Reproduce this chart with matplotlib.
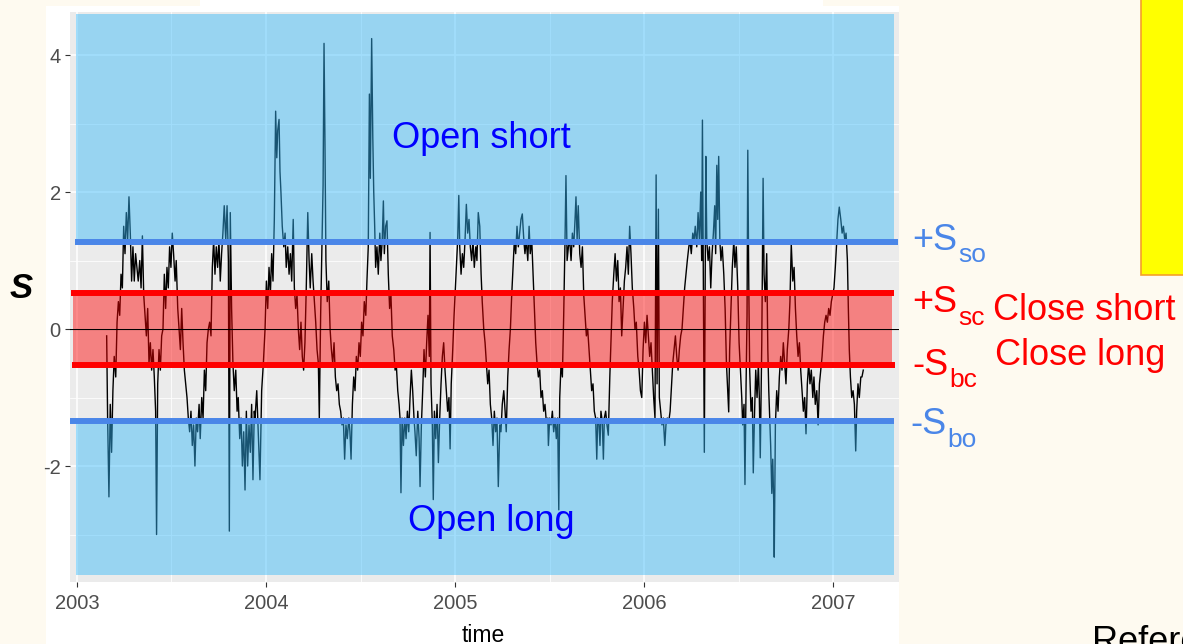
import numpy as np
import matplotlib.pyplot as plt
from matplotlib.patches import Rectangle

plt.rcParams['font.family'] = ['Liberation Sans', 'DejaVu Sans']

# Spread S, split into pieces (decimal years)
t_a = [2003.157, 2003.162, 2003.169, 2003.176, 2003.183, 2003.190, 2003.197, 2003.205, 2003.212, 2003.219,
       2003.226, 2003.233, 2003.240, 2003.247, 2003.254, 2003.261, 2003.268, 2003.275, 2003.282, 2003.289,
       2003.296, 2003.303, 2003.310, 2003.317, 2003.324, 2003.332, 2003.339, 2003.346, 2003.353, 2003.360,
       2003.367, 2003.374, 2003.381, 2003.388, 2003.395, 2003.402, 2003.409, 2003.416, 2003.421, 2003.427,
       2003.434, 2003.441, 2003.448, 2003.455, 2003.462, 2003.469, 2003.476, 2003.483, 2003.490, 2003.497,
       2003.504, 2003.511, 2003.519, 2003.525, 2003.533, 2003.540, 2003.547, 2003.554, 2003.561, 2003.568,
       2003.575, 2003.582, 2003.589, 2003.596, 2003.603, 2003.610, 2003.617, 2003.624, 2003.631, 2003.638,
       2003.646, 2003.652, 2003.660, 2003.667, 2003.674, 2003.681, 2003.688, 2003.695, 2003.702, 2003.709,
       2003.716, 2003.723, 2003.730, 2003.737, 2003.744, 2003.751, 2003.758, 2003.765, 2003.772, 2003.779,
       2003.787, 2003.794, 2003.801, 2003.806, 2003.811, 2003.818, 2003.825, 2003.832, 2003.840, 2003.847,
       2003.853, 2003.861, 2003.868, 2003.875, 2003.882, 2003.889, 2003.896, 2003.903, 2003.910, 2003.917,
       2003.924, 2003.931, 2003.938]
s_a = [-0.1, -1.3, -2.45, -1.1, -1.8, -0.9, -0.4, -0.7, 0.1, 0.4,
       0.2, 0.8, 0.6, 1.5, 1.1, 1.7, 1.3, 1.93, 1.4, 0.7,
       1.2, 0.7, 1.1, 0.9, 0.7, 1.0, 0.6, 1.36, 0.5, 0.2,
       -0.1, 0.3, -0.5, -0.2, -0.6, -0.3, -0.7, -1.2, -3.0, -0.8,
       -0.3, -0.6, -0.1, 0.0, 0.8, 0.3, 0.9, 0.6, 1.2, 0.9,
       1.4, 1.1, 0.7, 1.0, 0.3, 0.0, -0.3, 0.3, -0.2, -0.6,
       -0.8, -1.0, -1.3, -1.5, -1.2, -1.7, -1.4, -2.0, -1.3, -1.5,
       -1.1, -1.6, -1.0, -1.3, -0.6, -0.9, -0.2, 0.0, 0.1, -0.1,
       0.9, 1.3, 0.8, 1.2, 0.9, 1.3, 0.7, 1.1, 1.4, 1.8,
       1.3, 1.8, 1.0, -2.95, 1.7, 0.3, -0.5, -0.9, -0.6, -1.2,
       -1.0, -1.6, -1.3, -2.0, -1.5, -2.35, -1.2, -2.0, -1.4, -1.8,
       -1.1, -2.2, -1.2]

t_b = [2003.942, 2003.951, 2003.959, 2003.968, 2003.977, 2003.986, 2003.995, 2004.002, 2004.009, 2004.016,
       2004.023, 2004.030, 2004.037, 2004.044, 2004.051, 2004.057, 2004.062, 2004.069, 2004.074, 2004.079,
       2004.086, 2004.094, 2004.101, 2004.107, 2004.115, 2004.122, 2004.129, 2004.136, 2004.144, 2004.150,
       2004.157, 2004.164, 2004.171, 2004.178, 2004.185, 2004.192, 2004.199, 2004.206, 2004.213, 2004.221,
       2004.228, 2004.234, 2004.242, 2004.249, 2004.256, 2004.263, 2004.270, 2004.277, 2004.282, 2004.289,
       2004.296, 2004.302, 2004.307, 2004.312, 2004.317, 2004.324, 2004.332, 2004.339, 2004.346, 2004.353,
       2004.360, 2004.367, 2004.374, 2004.381, 2004.388, 2004.395, 2004.402, 2004.409, 2004.416, 2004.423,
       2004.430, 2004.438, 2004.444, 2004.450, 2004.457, 2004.464, 2004.471, 2004.478, 2004.485, 2004.492,
       2004.499, 2004.506, 2004.513, 2004.520, 2004.528, 2004.534, 2004.541, 2004.547, 2004.552, 2004.559,
       2004.565, 2004.570, 2004.575, 2004.580, 2004.587, 2004.594, 2004.602, 2004.608, 2004.615, 2004.621,
       2004.626, 2004.633, 2004.640, 2004.647, 2004.654, 2004.661, 2004.668, 2004.676, 2004.683, 2004.689,
       2004.697, 2004.704, 2004.709, 2004.714, 2004.720, 2004.727, 2004.734, 2004.741, 2004.748, 2004.755,
       2004.762, 2004.769, 2004.776, 2004.783]
s_b = [-1.3, -0.9, -1.5, -2.2, -0.9, -0.5, 0.0, 0.7, 0.3, 0.9,
       0.5, 1.1, 0.7, 1.6, 3.18, 2.5, 2.9, 3.06, 2.3, 2.0,
       1.5, 1.2, 1.4, 0.9, 1.2, 0.8, 1.1, 0.7, 1.6, 0.6,
       0.3, 0.5, 0.0, -0.3, 0.1, -0.4, -0.6, -0.2, 0.6, 1.7,
       1.0, 0.6, 1.1, 0.7, 0.4, 0.1, -0.3, -0.5, -1.3, 0.2,
       1.2, 2.1, 4.17, 2.7, 1.0, 0.4, 0.7, 0.0, -0.3, -0.5,
       -0.2, -0.7, -0.9, -0.8, -1.1, -1.2, -1.4, -1.3, -1.9, -1.4,
       -1.6, -1.3, -1.5, -1.9, -1.1, -0.7, -0.9, -0.4, -0.6, -0.2,
       -0.4, 0.1, -0.1, 0.4, 0.2, 0.7, 1.2, 3.43, 2.2, 4.24,
       2.8, 2.0, 1.5, 0.9, 1.2, 0.8, 1.4, 1.0, 1.3, 1.87,
       1.1, 1.5, 1.58, 0.8, 0.3, 0.5, -0.1, -0.3, -0.6, -0.5,
       -0.9, -1.1, -1.3, -2.39, -1.3, -1.7, -1.3, -1.6, -1.2, -1.5,
       -1.0, -0.6, -0.9, -1.3]

t_c = [2004.788, 2004.795, 2004.803, 2004.810, 2004.815, 2004.822, 2004.829, 2004.836, 2004.843, 2004.850,
       2004.857, 2004.864, 2004.868, 2004.873, 2004.880, 2004.885, 2004.891, 2004.898, 2004.905, 2004.912,
       2004.919, 2004.926, 2004.933, 2004.940, 2004.947, 2004.954, 2004.961, 2004.968, 2004.974, 2004.980,
       2004.988, 2004.995, 2005.002, 2005.009, 2005.014, 2005.020, 2005.025, 2005.032, 2005.039, 2005.046,
       2005.053, 2005.060, 2005.067, 2005.074, 2005.081, 2005.088, 2005.095, 2005.102, 2005.110, 2005.116,
       2005.123, 2005.131, 2005.138, 2005.144, 2005.152, 2005.159, 2005.166, 2005.173, 2005.180, 2005.187,
       2005.194, 2005.201, 2005.208, 2005.215, 2005.222, 2005.229, 2005.237, 2005.243, 2005.250, 2005.258,
       2005.265, 2005.271, 2005.279, 2005.286, 2005.293, 2005.300, 2005.307, 2005.314, 2005.321, 2005.328,
       2005.335, 2005.342, 2005.349, 2005.356, 2005.364, 2005.370, 2005.377, 2005.385, 2005.392, 2005.398,
       2005.406, 2005.413, 2005.420, 2005.427, 2005.434, 2005.441, 2005.448, 2005.455, 2005.462, 2005.469,
       2005.476, 2005.483, 2005.491, 2005.494, 2005.501, 2005.508, 2005.515, 2005.522, 2005.529, 2005.536,
       2005.543, 2005.549, 2005.554, 2005.561, 2005.568, 2005.575, 2005.582, 2005.587, 2005.593, 2005.600,
       2005.607, 2005.614, 2005.621, 2005.628]
s_c = [-1.5, -1.85, -1.2, -1.6, -2.3, -1.4, -0.9, -0.3, -0.7, -0.2,
       0.2, -0.4, 1.41, -0.8, -1.4, -2.49, -1.2, -1.6, -1.1, -1.95,
       -1.3, -0.8, -0.4, -0.2, -0.6, -0.9, -1.2, -1.0, -1.75, -0.8,
       -0.3, 0.2, 0.6, 1.0, 1.3, 1.95, 1.2, 0.8, 1.1, 0.9,
       1.3, 1.82, 1.4, 1.6, 1.2, 1.0, 1.3, 0.9, 1.2, 1.0,
       1.7, 1.5, 0.8, 0.4, 0.0, -0.2, -0.5, -0.8, -0.6, -1.1,
       -1.3, -1.7, -1.2, -1.5, -1.3, -2.3, -1.4, -1.5, -1.1, -0.9,
       -1.2, -1.5, -0.7, -0.3, 0.0, 0.5, 0.9, 1.3, 1.1, 1.5,
       1.2, 1.4, 1.6, 1.68, 1.3, 1.1, 1.3, 1.0, 1.5, 1.1,
       1.3, 0.8, 0.3, -0.2, -0.5, -0.7, -0.6, -1.0, -0.9, -1.2,
       -1.1, -1.35, -1.3, -1.7, -1.3, -1.4, -1.2, -1.5, -1.3, -1.6,
       -1.3, -2.64, -1.0, -0.5, -0.7, 0.2, 1.3, 2.24, 1.0, 1.2,
       1.3, 1.0, 1.4, 1.2]

t_d = [2005.635, 2005.640, 2005.646, 2005.652, 2005.660, 2005.667, 2005.674, 2005.681, 2005.688, 2005.695,
       2005.702, 2005.709, 2005.716, 2005.723, 2005.730, 2005.737, 2005.744, 2005.750, 2005.755, 2005.762,
       2005.767, 2005.772, 2005.779, 2005.785, 2005.790, 2005.797, 2005.804, 2005.811, 2005.819, 2005.825,
       2005.832, 2005.840, 2005.847, 2005.854, 2005.861, 2005.868, 2005.875, 2005.882, 2005.889, 2005.896,
       2005.903, 2005.910, 2005.917, 2005.924, 2005.931, 2005.938, 2005.946, 2005.952, 2005.959, 2005.967,
       2005.974, 2005.981, 2005.988, 2005.995, 2006.002, 2006.009, 2006.016, 2006.023, 2006.030, 2006.037,
       2006.044, 2006.051, 2006.058, 2006.064, 2006.069, 2006.076, 2006.081, 2006.088, 2006.095, 2006.102,
       2006.110, 2006.116, 2006.123, 2006.131, 2006.138, 2006.144, 2006.152, 2006.159, 2006.166, 2006.173,
       2006.180, 2006.187, 2006.194, 2006.201, 2006.208, 2006.215, 2006.222, 2006.229, 2006.237, 2006.243,
       2006.250, 2006.258, 2006.265, 2006.271, 2006.279, 2006.286, 2006.293, 2006.300, 2006.305, 2006.309,
       2006.314, 2006.319, 2006.323, 2006.327, 2006.332, 2006.339, 2006.346, 2006.353, 2006.360, 2006.367,
       2006.374, 2006.379, 2006.385, 2006.390, 2006.395, 2006.401, 2006.407, 2006.414, 2006.422, 2006.429,
       2006.436, 2006.443, 2006.448, 2006.453, 2006.460, 2006.467, 2006.475]
s_d = [1.6, 1.93, 1.3, 1.8, 1.1, 0.9, 1.2, 0.5, 0.2, -0.1,
       0.0, -0.3, -0.6, -0.9, -0.8, -1.2, -1.3, -1.9, -1.3, -1.4,
       -1.7, -1.2, -1.35, -1.9, -1.3, -1.2, -1.4, -1.55, -0.7, -0.2,
       0.4, 0.8, 1.1, 0.7, 1.0, 0.4, 0.6, -0.1, 0.3, 0.7,
       0.9, 1.2, 0.8, 1.5, 1.1, 0.6, 0.3, 0.0, 0.1, -0.4,
       -0.6, -0.9, -1.0, -0.3, 0.1, -0.2, 0.2, -0.1, -0.4, -0.2,
       -0.6, -1.0, -1.3, 2.25, -0.8, 1.75, -1.0, -1.2, -1.4, -1.3,
       -1.7, -1.4, -1.3, -1.35, -1.2, -0.9, -0.5, -0.3, -0.1, -0.4,
       -0.6, -0.3, -0.1, 0.0, 0.3, 0.6, 0.8, 1.0, 1.2, 1.3,
       1.1, 1.4, 1.3, 1.5, 1.2, 1.7, 1.3, 2.0, 1.0, 3.05,
       0.6, -1.8, 0.5, 2.52, 1.3, 1.0, 1.2, 0.6, 1.1, 1.4,
       1.8, 1.1, 2.39, 1.6, 2.52, 1.3, 1.0, 1.2, 0.8, 0.3,
       -0.5, -0.9, -1.21, -0.3, 0.3, 0.9, 1.3]

t_e = [2006.481, 2006.488, 2006.496, 2006.503, 2006.510, 2006.517, 2006.522, 2006.529, 2006.534, 2006.540,
       2006.545, 2006.549, 2006.554, 2006.559, 2006.566, 2006.573, 2006.578, 2006.584, 2006.591, 2006.598,
       2006.605, 2006.610, 2006.615, 2006.623, 2006.630, 2006.635, 2006.642, 2006.649, 2006.655, 2006.660,
       2006.665, 2006.670, 2006.676, 2006.681, 2006.686, 2006.689, 2006.695, 2006.702, 2006.709, 2006.716,
       2006.723, 2006.730, 2006.737, 2006.744, 2006.751, 2006.758, 2006.766, 2006.772, 2006.779, 2006.787,
       2006.794, 2006.801, 2006.808, 2006.815, 2006.822, 2006.829, 2006.836, 2006.843, 2006.850, 2006.857,
       2006.864, 2006.871, 2006.878, 2006.885, 2006.893, 2006.899, 2006.906, 2006.914, 2006.921, 2006.928,
       2006.935, 2006.942, 2006.949, 2006.956, 2006.963, 2006.970, 2006.977, 2006.984, 2006.991, 2006.998,
       2007.005, 2007.012, 2007.020, 2007.026, 2007.033, 2007.041, 2007.048, 2007.055, 2007.062, 2007.069,
       2007.076, 2007.081, 2007.086, 2007.092, 2007.099, 2007.106, 2007.113, 2007.120, 2007.125, 2007.132,
       2007.139, 2007.147, 2007.153, 2007.160]
s_e = [0.9, 1.2, 0.6, -0.2, -0.6, -1.0, -1.4, -1.1, -2.27, -0.8,
       0.2, 2.61, 0.7, -0.6, -1.2, -1.0, -2.1, -1.3, -0.6, -1.0,
       -0.5, -1.0, -1.88, -0.2, 2.2, 0.8, 0.4, 1.1, -0.3, -0.9,
       -1.3, -1.7, -2.4, -1.9, -2.5, -3.33, -1.4, -0.9, -1.2, -0.7,
       -0.4, -0.6, -0.2, -0.5, -0.8, -0.3, 0.0, 0.4, 1.24, 0.7,
       0.9, 0.3, -0.1, -0.4, -0.2, -0.6, -0.9, -1.2, -1.0, -1.53,
       -0.8, -0.5, -0.8, -0.6, -1.0, -0.7, -1.1, -0.9, -1.4, -0.8,
       -0.6, -0.4, -0.1, 0.1, 0.2, 0.1, 0.3, 0.2, 0.4, 0.5,
       0.6, 0.9, 1.3, 1.6, 1.78, 1.6, 1.4, 1.5, 1.3, 1.4,
       1.0, 0.3, -0.3, -0.7, -1.0, -0.9, -1.1, -1.78, -1.2, -0.8,
       -1.0, -0.7, -0.7, -0.6]

time = np.concatenate([t_a, t_b, t_c, t_d, t_e])
spread = np.concatenate([s_a, s_b, s_c, s_d, s_e])

# trading thresholds
s_so = 1.27    # +S_so open short
s_sc = 0.52    # +S_sc close short
s_bc = -0.53   # -S_bc close long
s_bo = -1.34   # -S_bo open long

year_ticks = [2003, 2004, 2005, 2006, 2007]
year_labels = ['2003', '2004', '2005', '2006', '2007']
half_years = [2003.5, 2004.5, 2005.5, 2006.5]
y_ticks = [-2, 0, 2, 4]
y_labels = ['-2', '0', '2', '4']
y_minor = [-3, -1, 1, 3]

W, H = 1183, 644
blue = '#4A86E8'
red = '#FF0000'

fig = plt.figure(figsize=(W / 100, H / 100), dpi=100, facecolor='#FEFAF0')


def px(x, y):
    # pixel position (from top-left) -> figure fraction
    return x / W, 1 - y / H


# white background of the pasted plot
fig.patches.append(Rectangle(px(46, 644), 853 / W, 638 / H, transform=fig.transFigure,
                             facecolor='white', edgecolor='none', zorder=-2))
fig.patches.append(Rectangle(px(200, 6), 623 / W, 6 / H, transform=fig.transFigure,
                             facecolor='white', edgecolor='none', zorder=-2))
# yellow box at top right
fig.patches.append(Rectangle(px(1141, 275), 60 / W, 290 / H, transform=fig.transFigure,
                             facecolor='#FFFF00', edgecolor='#F5A02A', lw=1.2, zorder=1))

ax = fig.add_axes([70 / W, 1 - 582 / H, 829 / W, 570 / H])
ax.set_facecolor('#EBEBEB')
ax.set_xlim(2002.963, 2007.349)
ax.set_ylim(-3.693, 4.628)
for sp in ax.spines.values():
    sp.set_visible(False)

ax.set_xticks(year_ticks)
ax.set_xticklabels(year_labels)
ax.set_xticks(half_years, minor=True)
ax.set_yticks(y_ticks)
ax.set_yticklabels(y_labels)
ax.set_yticks(y_minor, minor=True)
ax.set_axisbelow(True)
ax.grid(which='major', color='white', lw=1.1)
ax.grid(which='minor', color='white', lw=0.55)
ax.tick_params(which='major', length=3.6, width=0.8, color='#333333',
               labelcolor='#4D4D4D', labelsize=14.5)
ax.tick_params(axis='x', pad=5)
ax.tick_params(axis='y', pad=3)
ax.tick_params(which='minor', length=0)

# the spread
ax.plot(time, spread, color='black', lw=1.0, zorder=2)

# shaded zones
ax.add_patch(Rectangle((2002.995, s_so), 4.328, 4.60 - s_so, facecolor='#36B9FA',
                       alpha=0.46, lw=0, zorder=3))
ax.add_patch(Rectangle((2002.995, -3.59), 4.328, s_bo + 3.59, facecolor='#36B9FA',
                       alpha=0.46, lw=0, zorder=3))
ax.add_patch(Rectangle((2002.979, s_bc), 4.333, s_sc - s_bc, facecolor=red,
                       alpha=0.45, lw=0, zorder=3))

# threshold lines
ax.hlines(s_so, 2002.989, 2007.344, color=blue, lw=4.3, zorder=4)
ax.hlines(s_sc, 2002.968, 2007.323, color=red, lw=4.3, zorder=4)
ax.hlines(s_bc, 2002.974, 2007.328, color=red, lw=4.3, zorder=4)
ax.hlines(s_bo, 2002.963, 2007.323, color=blue, lw=4.3, zorder=4)
ax.axhline(0, color='black', lw=0.8, zorder=5)

ax.text(2005.14, 2.64, 'Open short', color='#0000FF', fontsize=26, ha='center',
        va='baseline', zorder=6)
ax.text(2005.19, -2.95, 'Open long', color='#0000FF', fontsize=26, ha='center',
        va='baseline', zorder=6)

ax.set_xlabel('time', fontsize=16.5, color='black')
ax.xaxis.set_label_coords(0.498, -0.074)

# y label
fig.text(*px(21, 298), 'S', fontsize=25, fontweight='bold', fontstyle='italic',
         ha='center', va='baseline')

# threshold labels on the right
fig.text(*px(912, 250), '+S', color=blue, fontsize=26, va='baseline')
fig.text(*px(958, 262), 'so', color=blue, fontsize=19, va='baseline')
fig.text(*px(912, 312), '+S', color=red, fontsize=26, va='baseline')
fig.text(*px(958, 325), 'sc', color=red, fontsize=19, va='baseline')
fig.text(*px(993, 320), 'Close short', color=red, fontsize=26, va='baseline')
fig.text(*px(912, 375), '-S', color=red, fontsize=26, va='baseline')
fig.text(*px(949, 387), 'bc', color=red, fontsize=19, va='baseline')
fig.text(*px(995, 365), 'Close long', color=red, fontsize=26, va='baseline')
fig.text(*px(910, 434), '-S', color=blue, fontsize=26, va='baseline')
fig.text(*px(947, 447), 'bo', color=blue, fontsize=19, va='baseline')

fig.text(*px(1092, 652), 'Reference', color='black', fontsize=26, va='baseline')

fig.savefig('out.png', dpi=100, facecolor=fig.get_facecolor())
